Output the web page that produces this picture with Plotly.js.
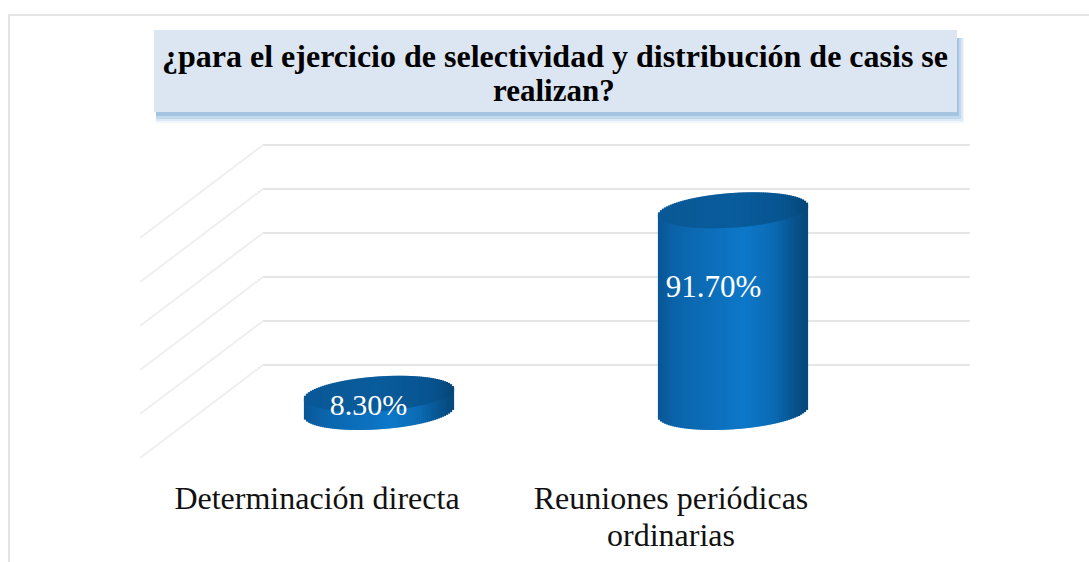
<!DOCTYPE html>
<html><head><meta charset="utf-8">
<script src="https://cdn.plot.ly/plotly-3.0.1.min.js"></script>
<style>html,body{margin:0;padding:0;background:#fff;overflow:hidden}</style>
</head><body><div id="chart" style="width:1089px;height:562px"></div>
<script>
const categories = ['Determinación directa', 'Reuniones periódicas'];
const categorySecondLine = ['', 'ordinarias'];
const values = [8.3, 91.7];
const valueLabels = ['8.30%', '91.70%'];
const gridValues = [0, 20, 40, 60, 80, 100];
const titleFirstLine = '¿para el ejercicio de selectividad y distribución de casis se';
const titleSecondLine = 'realizan?';

const serif = '"Liberation Serif","Times New Roman",serif';
const W = 1089, H = 562;
const plot = {l: 140, r: 970, t: 130, b: 465};
const zeroPx = 412, pxPerUnit = 2.2, pxPerCat = 354, firstPx = 379;
const xr = [(plot.l - firstPx) / pxPerCat, (plot.r - firstPx) / pxPerCat];
const yr = [(zeroPx - plot.b) / pxPerUnit, (zeroPx - plot.t) / pxPerUnit];

// cylinder geometry in axis units
const halfW = 74.5 / pxPerCat, capB = 17.3 / pxPerUnit, tilt = 0.066 * pxPerCat / pxPerUnit;
const N = 75;
const bodyStops = [[0, [9, 86, 150]], [.12, [11, 100, 170]], [.58, [13, 120, 201]], [.78, [11, 106, 178]], [.92, [7, 82, 140]], [1, [6, 72, 124]]];
const capStops = [[0, [10, 88, 150]], [.5, [9, 92, 156]], [.85, [7, 84, 144]], [1, [5, 70, 120]]];
function grad(stops, t) {
  for (let i = 1; i < stops.length; i++) if (t <= stops[i][0]) {
    const a = stops[i - 1], b = stops[i], k = (t - a[0]) / (b[0] - a[0]);
    return 'rgb(' + a[1].map((c, j) => Math.round(c + (b[1][j] - c) * k)).join(',') + ')';
  }
  return 'rgb(' + stops[stops.length - 1][1].join(',') + ')';
}
function edges(u) { // u in [-1,1]
  const s = Math.sqrt(Math.max(0, 1 - u * u)) * capB;
  return {lo: -s + tilt * u * halfW, hi: s + tilt * u * halfW};
}
const traces = [];
values.forEach((v, i) => {
  const body = {x: [], y: [], base: [], width: [], color: []};
  const cap = {x: [], y: [], base: [], width: [], color: []};
  for (let k = 0; k < N; k++) {
    const t = (k + .5) / N, u = 2 * t - 1, e = edges(u);
    const xv = i + u * halfW, w = 2 * halfW / N * 1.6;
    body.x.push(xv); body.base.push(e.lo); body.y.push(v + (e.lo + e.hi) / 2 - e.lo); body.width.push(w); body.color.push(grad(bodyStops, t));
    cap.x.push(xv); cap.base.push(v + e.lo); cap.y.push(e.hi - e.lo); cap.width.push(w); cap.color.push(grad(capStops, t));
  }
  [body, cap].forEach(s => traces.push({type: 'bar', x: s.x, y: s.y, base: s.base, width: s.width,
    marker: {color: s.color, line: {width: 0}}, hoverinfo: 'skip', showlegend: false}));
});
traces.push({type: 'scatter', mode: 'text', x: [-0.03, 0.945], y: [2.2, 55.7], text: valueLabels,
  textfont: {family: serif, size: [30, 31], color: '#ffffff'}, textposition: 'middle center', hoverinfo: 'skip', showlegend: false});

// back wall & side wall grid
const depthX = 123 / pxPerCat, depthY = 93 / pxPerUnit, backX = xr[0] + depthX, backY = 47 / pxPerUnit;
const shapes = [];
const px = (x) => (x - plot.l) / (plot.r - plot.l), py = (y) => (plot.b - y) / (plot.b - plot.t);
const rect = (x0, y0, x1, y1, fill, layer) => ({type: 'rect', xref: 'paper', yref: 'paper', x0: px(x0), x1: px(x1), y0: py(y0), y1: py(y1), fillcolor: fill, line: {width: 0}, layer: layer || 'below'});
// outer frame
shapes.push(rect(8, 14, 10, 562, '#e4e4e4'), rect(8, 14, 1089, 16, '#e4e4e4'));
// title box with soft shadow
shapes.push(rect(156, 38, 964, 123, '#f1f6fb'), rect(156, 38, 963, 121, '#dbe8f5'), rect(156, 38, 961, 119, '#c2d8ec'), rect(156, 38, 959, 116, '#a4c4e2'));
shapes.push(rect(154, 30, 957, 112, '#dce6f2'));
gridValues.forEach(g => {
  shapes.push({type: 'line', xref: 'x', yref: 'y', x0: backX, x1: xr[1], y0: g + backY, y1: g + backY, line: {color: '#e6e6e6', width: 2}, layer: 'below'});
  shapes.push({type: 'line', xref: 'x', yref: 'y', x0: backX - depthX, x1: backX, y0: g + backY - depthY, y1: g + backY, line: {color: '#efefef', width: 2}, layer: 'below'});
});

const labelShift = -62 / pxPerCat;
const annotations = [{xref: 'paper', yref: 'paper', x: px(554), y: py(90), text: titleSecondLine, showarrow: false, xanchor: 'center', yanchor: 'middle',
  font: {family: serif, size: 31, color: '#000000', weight: 'bold'}}];
categorySecondLine.forEach((t, i) => { if (t) annotations.push({xref: 'x', yref: 'paper', x: i + labelShift, y: py(535), text: t, showarrow: false, xanchor: 'center', yanchor: 'middle',
  font: {family: serif, size: 32, color: '#111111'}}); });

Plotly.newPlot('chart', traces, {
  width: W, height: H, autosize: false,
  margin: {l: plot.l, r: W - plot.r, t: plot.t, b: H - plot.b, pad: 0},
  paper_bgcolor: '#ffffff', plot_bgcolor: 'rgba(0,0,0,0)',
  barmode: 'overlay', showlegend: false,
  title: {text: titleFirstLine, font: {family: serif, size: 32, color: '#000000', weight: 'bold'}, x: 555 / W, xanchor: 'center', y: 1 - 56 / H, yanchor: 'middle'},
  xaxis: {range: xr, tickmode: 'array', tickvals: categories.map((c, i) => i + labelShift), ticktext: categories, showgrid: false, zeroline: false, showline: false,
    ticks: 'outside', ticklen: 5, tickcolor: 'rgba(0,0,0,0)', tickfont: {family: serif, size: 32, color: '#111111'}, automargin: false},
  yaxis: {range: yr, showgrid: false, zeroline: false, showline: false, showticklabels: false, ticks: '', automargin: false},
  shapes: shapes, annotations: annotations
}, {displayModeBar: false, staticPlot: true});
</script></body></html>
